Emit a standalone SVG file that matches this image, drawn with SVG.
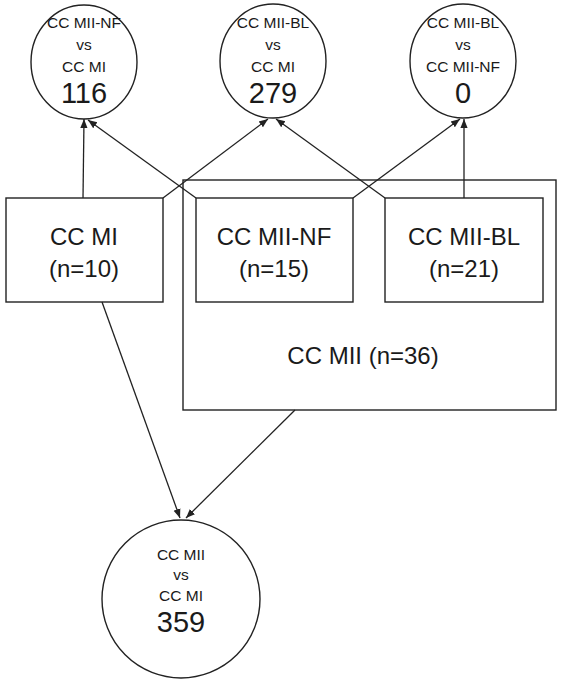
<svg xmlns="http://www.w3.org/2000/svg" width="564" height="685" viewBox="0 0 564 685">
<style>
  .shape { fill: none; stroke: #222; stroke-width: 1.4; }
  .conn { fill: none; stroke: #222; stroke-width: 1.3; marker-end: url(#arr); }
  text { font-family: "Liberation Sans", Arial, sans-serif; fill: #1a1a1a; text-anchor: middle; }
  .sm { font-size: 15.5px; }
  .num { font-size: 29px; }
  .box { font-size: 24px; }
</style>
<defs>
  <marker id="arr" viewBox="0 0 10 10" refX="10" refY="5" markerWidth="9" markerHeight="9" markerUnits="userSpaceOnUse" orient="auto">
    <path d="M0,1 L10,5 L0,9 z" fill="#222"/>
  </marker>
</defs>
<rect width="564" height="685" fill="#fff"/>

<g id="connectors">
  <line class="conn" x1="83" y1="198" x2="84" y2="119"/>
  <line class="conn" x1="163" y1="198" x2="268" y2="119"/>
  <line class="conn" x1="196" y1="198" x2="88" y2="120"/>
  <line class="conn" x1="353" y1="198" x2="460" y2="119"/>
  <line class="conn" x1="385" y1="198" x2="276" y2="119"/>
  <line class="conn" x1="464" y1="198" x2="464" y2="119"/>
  <line class="conn" x1="102" y1="302" x2="180" y2="518"/>
  <line class="conn" x1="295" y1="410" x2="186" y2="518"/>
</g>

<g id="cmp-nf-mi">
  <ellipse class="shape" cx="84" cy="62" rx="53" ry="57" fill="#fff"/>
  <text class="sm" x="84" y="28">CC MII-NF</text>
  <text class="sm" x="84" y="50">vs</text>
  <text class="sm" x="84" y="72">CC MI</text>
  <text class="num" x="84" y="103">116</text>
</g>
<g id="cmp-bl-mi">
  <ellipse class="shape" cx="273" cy="61" rx="53" ry="57"/>
  <text class="sm" x="273" y="28">CC MII-BL</text>
  <text class="sm" x="273" y="50">vs</text>
  <text class="sm" x="273" y="72">CC MI</text>
  <text class="num" x="273" y="103">279</text>
</g>
<g id="cmp-bl-nf">
  <ellipse class="shape" cx="463" cy="61" rx="53" ry="57"/>
  <text class="sm" x="463" y="28">CC MII-BL</text>
  <text class="sm" x="463" y="50">vs</text>
  <text class="sm" x="463" y="72">CC MII-NF</text>
  <text class="num" x="463" y="103">0</text>
</g>

<g id="cc-mii">
  <rect class="shape" x="183" y="180" width="373" height="230"/>
  <text class="box" x="363" y="364">CC MII (n=36)</text>
</g>
<g id="cc-mi">
  <rect class="shape" x="6" y="198" width="157" height="104"/>
  <text class="box" x="84" y="245">CC MI</text>
  <text class="box" x="84" y="277">(n=10)</text>
</g>
<g id="cc-mii-nf">
  <rect class="shape" x="196" y="198" width="157" height="104"/>
  <text class="box" x="274" y="245">CC MII-NF</text>
  <text class="box" x="274" y="277">(n=15)</text>
</g>
<g id="cc-mii-bl">
  <rect class="shape" x="385" y="198" width="158" height="104"/>
  <text class="box" x="464" y="245">CC MII-BL</text>
  <text class="box" x="464" y="277">(n=21)</text>
</g>

<g id="cmp-mii-mi">
  <circle class="shape" cx="181" cy="599" r="79"/>
  <text class="sm" x="181" y="560">CC MII</text>
  <text class="sm" x="181" y="580">vs</text>
  <text class="sm" x="181" y="601">CC MI</text>
  <text class="num" x="181" y="632">359</text>
</g>
</svg>
